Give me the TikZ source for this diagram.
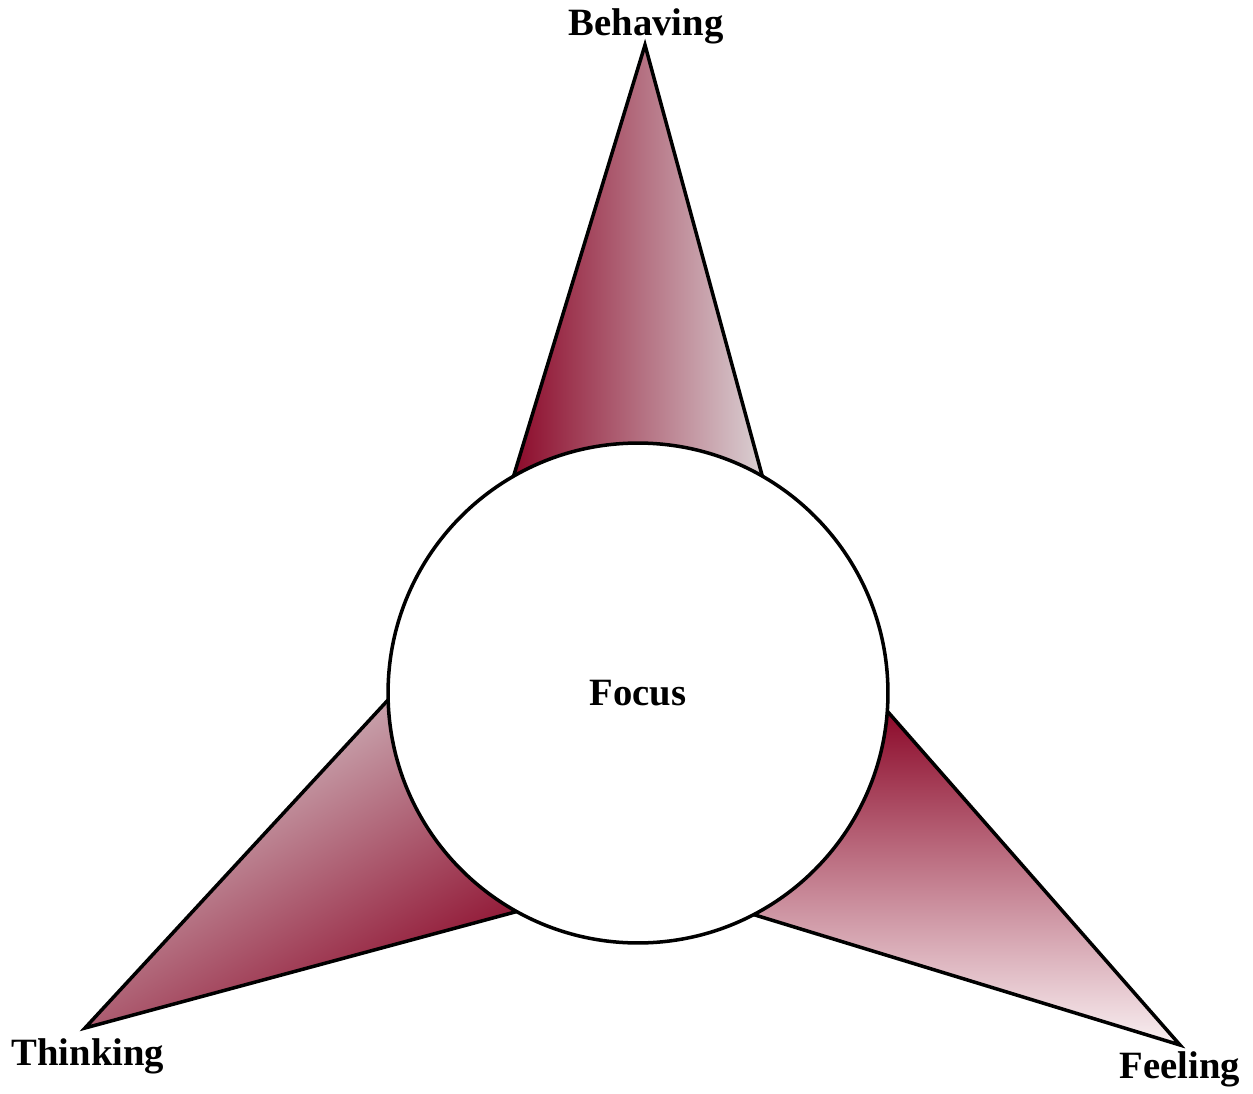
\documentclass[tikz,border=0pt]{standalone}
\usepackage{fontspec}
\setmainfont{Liberation Serif}
\definecolor{darkred}{RGB}{140,10,42}
\definecolor{greypink}{RGB}{218,208,211}
\definecolor{palepink}{RGB}{249,240,242}
\begin{document}
\begin{tikzpicture}[x=0.02cm,y=-0.02cm,
  spike/.style={draw=black,line width=2pt,line join=miter},
  lbl/.style={font=\fontsize{22}{24}\selectfont\bfseries,anchor=base,inner sep=0pt}]
\useasboundingbox (0,0) rectangle (1253,1094);
% top spike
\coordinate (tT) at (645,45);
\coordinate (tL) at (513,478);
\coordinate (tR) at (762,475);
\path[spike,left color=darkred,right color=greypink] (tL) -- (tT) -- (tR) -- cycle;
% left spike
\coordinate (lT) at (85,1028);
\coordinate (lA) at (388,700);
\coordinate (lB) at (515,912);
\path[spike,shading=axis,top color=darkred,bottom color=greypink,shading angle=211] (lA) -- (lT) -- (lB) -- cycle;
% right spike
\coordinate (rT) at (1180,1045);
\coordinate (rA) at (888,712);
\coordinate (rB) at (755,915);
\path[spike,top color=darkred,bottom color=palepink] (rA) -- (rT) -- (rB) -- cycle;
% circle
\node[circle,draw=black,fill=white,line width=2pt,minimum size=10cm,inner sep=0pt] (focus) at (638,693) {};
\node[lbl] (focuslbl) at (638,705) {Focus};
\node[lbl] (beh) at (646,36) {Behaving};
\node[lbl] (thi) at (88,1065) {Thinking};
\node[lbl] (fee) at (1180,1078) {Feeling};
\end{tikzpicture}
\end{document}
